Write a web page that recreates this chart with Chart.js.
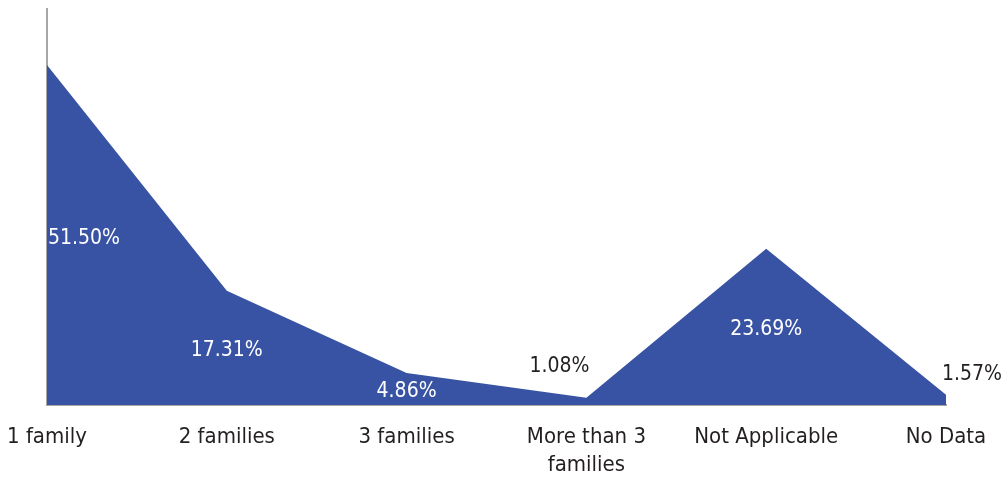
<!DOCTYPE html>
<html>
<head>
<meta charset="utf-8">
<script src="https://cdn.jsdelivr.net/npm/chart.js@4.4.0/dist/chart.umd.min.js"></script>
<style>
	html, body { margin: 0; padding: 0; background: #fff; }
	#wrap { width: 1002px; height: 477px; }
</style>
</head>
<body>
<div id="wrap"><canvas id="familyChart" width="1002" height="477"></canvas></div>
<script>
// Datos del gráfico
const categorias = ['1 family', '2 families', '3 families', ['More than 3', 'families'], 'Not Applicable', 'No Data']
const porcentajes = [51.5, 17.31, 4.86, 1.08, 23.69, 1.57]
const etiquetas = ['51.50%', '17.31%', '4.86%', '1.08%', '23.69%', '1.57%']

const fuente = "'Liberation Sans Narrow', 'DejaVu Sans Condensed', sans-serif"

// Etiquetas de datos al estilo Excel
const etiquetasPlugin = {
	id: 'etiquetas',
	afterDatasetsDraw(chart) {
		const ctx = chart.ctx
		const meta = chart.getDatasetMeta(0)
		const yScale = chart.scales.y
		const area = chart.chartArea
		const base = yScale.getPixelForValue(0)
		ctx.save()
		ctx.font = '21px ' + fuente
		ctx.textBaseline = 'middle'
		meta.data.forEach((pt, i) => {
			const txt = etiquetas[i]
			const w = ctx.measureText(txt).width
			if (porcentajes[i] > 3) {
				// dentro del área, centrada
				ctx.fillStyle = '#ffffff'
				let x = pt.x - w / 2
				x = Math.max(area.left + 1, Math.min(x, area.right - w))
				ctx.textAlign = 'left'
				ctx.fillText(txt, x, (pt.y + base) / 2 + 3)
			} else {
				ctx.fillStyle = '#231f20'
				if (i === meta.data.length - 1) {
					ctx.textAlign = 'left'
					ctx.fillText(txt, pt.x - 4, pt.y - 20)
				} else {
					ctx.textAlign = 'right'
					ctx.fillText(txt, pt.x + 3, pt.y - 31)
				}
			}
		})
		ctx.restore()
	},
}

const ctx = document.getElementById('familyChart').getContext('2d')
const chart = new Chart(ctx, {
	type: 'line',
	data: {
		labels: categorias,
		datasets: [
			{
				data: porcentajes,
				backgroundColor: '#3953a4',
				borderWidth: 0,
				pointRadius: 0,
				tension: 0,
				fill: 'origin',
			},
		],
	},
	options: {
		responsive: false,
		animation: false,
		layout: { padding: { left: 47, right: 56, top: 9, bottom: 0 } },
		plugins: {
			legend: { display: false },
			tooltip: { enabled: false },
		},
		scales: {
			x: {
				offset: false,
				grid: { display: false, drawTicks: false },
				border: { color: '#a6a6a6', width: 2 },
				ticks: {
					color: '#231f20',
					padding: 18,
					maxRotation: 0,
					autoSkip: false,
					font: { family: fuente, size: 22, lineHeight: 1.27 },
				},
				afterFit: (s) => {
					s.height = 72
					s.paddingLeft = 0
					s.paddingRight = 0
				},
			},
			y: {
				min: 0,
				max: 60,
				grid: { display: false, drawTicks: false },
				border: { color: '#a6a6a6', width: 2 },
				ticks: { display: false },
				afterFit: (s) => {
					s.width = 0
				},
			},
		},
	},
	plugins: [etiquetasPlugin],
})
</script>
</body>
</html>
